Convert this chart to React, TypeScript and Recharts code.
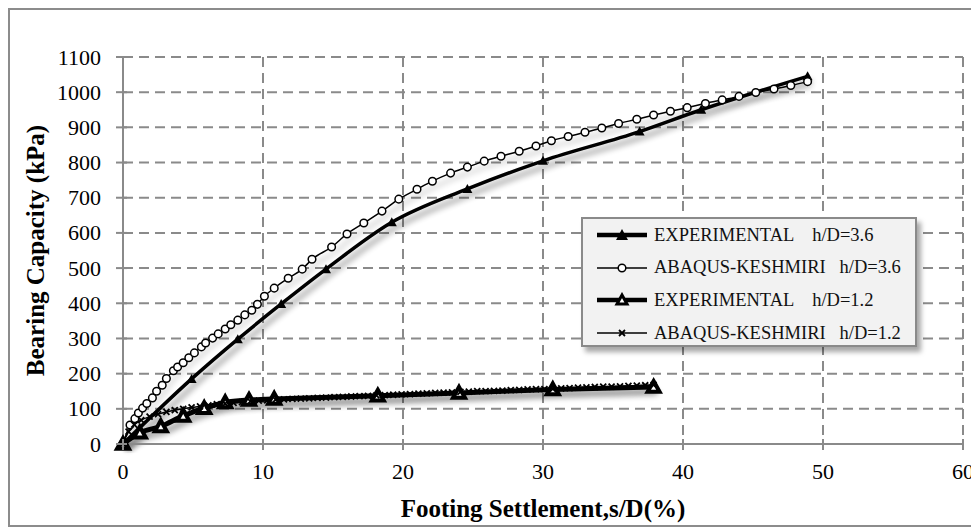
import { LineChart, Line, XAxis, YAxis, CartesianGrid } from 'recharts'

const xTicks = [0, 10, 20, 30, 40, 50, 60]
const yTicks = [0, 100, 200, 300, 400, 500, 600, 700, 800, 900, 1000, 1100]

// EXPERIMENTAL h/D=3.6
const expHighS = [0, 4.9, 8.2, 11.3, 14.5, 19.2, 24.6, 30.0, 36.9, 41.3, 48.9]
const expHighQ = [0, 185, 298, 398, 497, 630, 725, 805, 888, 950, 1045]

// ABAQUS-KESHMIRI h/D=3.6
const abqHighS = [
  0, 0.5, 0.85, 1.1, 1.4, 1.7, 2.1, 2.4, 2.8, 3.1, 3.6, 3.9, 4.3, 4.7, 5.1, 5.6, 5.9, 6.4, 6.8, 7.3,
  7.7, 8.2, 8.7, 9.2, 9.6, 10.1, 10.8, 11.8, 12.8, 13.5, 14.9, 16.0, 17.2, 18.5, 19.7, 21.0, 22.1,
  23.4, 24.6, 25.8, 27.0, 28.3, 29.5, 30.6, 31.8, 33.0, 34.2, 35.4, 36.7, 37.9, 39.1, 40.3, 41.6,
  42.8, 44.0, 45.2, 46.5, 47.7, 48.9,
]
const abqHighQ = [
  0, 54, 72, 88, 102, 115, 131, 150, 167, 186, 208, 219, 231, 245, 259, 276, 287, 301, 313, 327,
  339, 352, 367, 380, 397, 420, 443, 471, 497, 525, 560, 597, 628, 662, 696, 724, 747,
  770, 787, 804, 818, 832, 847, 862, 874, 886, 898, 911, 923, 935, 946, 956, 968,
  978, 988, 999, 1009, 1019, 1030,
]

// EXPERIMENTAL h/D=1.2
const expLowS = [0, 1.2, 2.7, 4.3, 5.8, 7.3, 9.0, 10.8, 18.2, 24.0, 30.7, 37.9]
const expLowQ = [0, 32, 50, 80, 102, 118, 125, 128, 137, 145, 155, 162]

// ABAQUS-KESHMIRI h/D=1.2
const abqLowS = [
  0, 0.4, 0.8, 1.3, 1.9, 2.5, 3.1, 3.7, 4.3, 4.9, 5.5, 6.1, 6.7, 7.3, 7.9, 8.5, 9.1, 9.7, 10.3,
  10.9, 11.5, 12.1, 12.7, 13.3, 13.9, 14.5, 15.1, 15.7, 16.3, 16.9, 17.5, 18.1, 18.7, 19.3, 19.9,
  20.5, 21.1, 21.7, 22.3, 22.9, 23.5, 24.1, 24.7, 25.3, 25.9, 26.5, 27.1, 27.7, 28.3, 28.9, 29.5,
  30.1, 30.7, 31.3, 31.9, 32.5, 33.1, 33.7, 34.3, 34.9, 35.5, 36.1, 36.7, 37.3, 37.9,
]
const abqLowQ = [
  0, 35, 55, 68, 78, 85, 91, 96, 100, 104, 107, 110, 113, 115, 117, 119, 121, 123, 124,
  126, 127, 128, 129, 130, 131, 132, 133, 134, 135, 136, 137, 138, 139, 140, 141,
  142, 143, 144, 145, 146, 147, 148, 149, 150, 150, 151, 152, 153, 154, 155, 156,
  156, 157, 158, 159, 160, 161, 162, 163, 163, 164, 165, 166, 167, 168,
]

const rows = (s: number[], q: number[]) => s.map((v, i) => ({ s: v, q: q[i] }))

const serif = '"Liberation Serif", "Times New Roman", serif'
const gray = '#8a8a8a'

const triDot = (size: number, fill: string, stroke: string, sw: number) => (p: any) => {
  if (p.cx == null || p.cy == null) return <g key={p.index} />
  const { cx, cy } = p
  return (
    <path
      key={p.index}
      d={`M${cx},${cy - size} L${cx + size},${cy + size * 0.8} L${cx - size},${cy + size * 0.8} Z`}
      fill={fill}
      stroke={stroke}
      strokeWidth={sw}
      strokeLinejoin="miter"
    />
  )
}

const circleDot = (p: any) => {
  if (p.cx == null || p.cy == null) return <g key={p.index} />
  return <circle key={p.index} cx={p.cx} cy={p.cy} r={3.8} fill="#fff" stroke="#000" strokeWidth={1.5} />
}

const crossDot = (p: any) => {
  if (p.cx == null || p.cy == null) return <g key={p.index} />
  const { cx, cy } = p
  const r = 3
  return (
    <path
      key={p.index}
      d={`M${cx - r},${cy - r} L${cx + r},${cy + r} M${cx + r},${cy - r} L${cx - r},${cy + r}`}
      stroke="#000"
      strokeWidth={1.8}
    />
  )
}

const YTick = (p: any) => (
  <g>
    <line x1={p.x - 7} x2={p.x + 4} y1={p.y} y2={p.y} stroke={gray} strokeWidth={2} />
    <text x={p.x - 22} y={p.y} textAnchor="end" dominantBaseline="central" fontFamily={serif} fontSize={22} fill="#000">
      {p.payload.value}
    </text>
  </g>
)

const XTick = (p: any) => (
  <g>
    <line x1={p.x} x2={p.x} y1={p.y - 5} y2={p.y + 6} stroke={gray} strokeWidth={2} />
    <text x={p.x} y={p.y + 27} textAnchor="middle" dominantBaseline="central" fontFamily={serif} fontSize={22} fill="#000">
      {p.payload.value}
    </text>
  </g>
)

const legendItems = [
  { label: 'EXPERIMENTAL    h/D=3.6', kind: 'expHigh' },
  { label: 'ABAQUS-KESHMIRI   h/D=3.6', kind: 'abqHigh' },
  { label: 'EXPERIMENTAL    h/D=1.2', kind: 'expLow' },
  { label: 'ABAQUS-KESHMIRI   h/D=1.2', kind: 'abqLow' },
]

function LegendSample({ kind }: { kind: string }) {
  const thick = kind === 'expHigh' || kind === 'expLow'
  return (
    <svg width={50} height={16} style={{ display: 'block' }}>
      <line x1={0} x2={50} y1={8} y2={8} stroke="#000" strokeWidth={thick ? 4.5 : 1.5} />
      {kind === 'expHigh' && <path d="M25,2 L31,13 L19,13 Z" fill="#000" />}
      {kind === 'abqHigh' && <circle cx={25} cy={8} r={3.8} fill="#fff" stroke="#000" strokeWidth={1.5} />}
      {kind === 'expLow' && <path d="M25,3 L30,12 L20,12 Z" fill="#fff" stroke="#000" strokeWidth={3} />}
      {kind === 'abqLow' && <path d="M22,5 L28,11 M28,5 L22,11" stroke="#000" strokeWidth={1.8} />}
    </svg>
  )
}

export default function App() {
  return (
    <div style={{ position: 'relative', width: 971, height: 520, overflow: 'hidden', background: '#fff' }}>
      <svg width={0} height={0} style={{ position: 'absolute' }}>
        <defs>
          <filter id="lineShadow" x="-5%" y="-5%" width="115%" height="120%">
            <feGaussianBlur in="SourceAlpha" stdDeviation="3" />
            <feOffset dx="4" dy="5" result="off" />
            <feComponentTransfer>
              <feFuncA type="linear" slope="0.45" />
            </feComponentTransfer>
            <feMerge>
              <feMergeNode />
              <feMergeNode in="SourceGraphic" />
            </feMerge>
          </filter>
        </defs>
      </svg>
      <style>{`
        .recharts-line-curve { filter: url(#lineShadow); }
      `}</style>
      <LineChart width={971} height={520} margin={{ top: 49, right: 16, bottom: 0, left: 0 }}>
        <CartesianGrid stroke={gray} strokeWidth={2} strokeDasharray="10 6" />
        <XAxis
          type="number"
          dataKey="s"
          domain={[0, 60]}
          ticks={xTicks}
          height={84}
          tickSize={0}
          tickMargin={0}
          tickLine={false}
          axisLine={{ stroke: gray, strokeWidth: 2 }}
          tick={XTick}
          label={{
            content: (lp: any) => {
              const vb = lp.viewBox || { x: 115, y: 436, width: 840 }
              return (
                <text x={vb.x + vb.width / 2} y={vb.y + 64} textAnchor="middle" dominantBaseline="central" fontFamily={serif} fontWeight="bold" fontSize={25} fill="#000">
                  Footing Settlement,s/D(%)
                </text>
              )
            },
          }}
        />
        <YAxis
          type="number"
          dataKey="q"
          domain={[0, 1100]}
          ticks={yTicks}
          width={115}
          tickSize={0}
          tickMargin={0}
          tickLine={false}
          axisLine={{ stroke: gray, strokeWidth: 2 }}
          tick={YTick}
          label={{
            content: (lp: any) => {
              const vb = lp.viewBox || { x: 0, y: 49, height: 387 }
              const cy = vb.y + vb.height / 2
              return (
                <text x={27} y={cy} transform={`rotate(-90 27 ${cy})`} textAnchor="middle" dominantBaseline="central" fontFamily={serif} fontWeight="bold" fontSize={25} fill="#000">
                  Bearing Capacity (kPa)
                </text>
              )
            },
          }}
        />
        <Line
          data={rows(expHighS, expHighQ)}
          dataKey="q"
          type="monotone"
          stroke="#000"
          strokeWidth={3.5}
          dot={triDot(5, '#000', '#000', 0)}
          isAnimationActive={false}
        />
        <Line
          data={rows(abqHighS, abqHighQ)}
          dataKey="q"
          type="monotone"
          stroke="#000"
          strokeWidth={1.5}
          dot={circleDot}
          isAnimationActive={false}
        />
        <Line
          data={rows(expLowS, expLowQ)}
          dataKey="q"
          type="monotone"
          stroke="#000"
          strokeWidth={5}
          dot={triDot(6, '#fff', '#000', 4)}
          isAnimationActive={false}
        />
        <Line
          data={rows(abqLowS, abqLowQ)}
          dataKey="q"
          type="monotone"
          stroke="#000"
          strokeWidth={1.5}
          dot={crossDot}
          isAnimationActive={false}
        />
      </LineChart>

      <div
        style={{
          position: 'absolute',
          left: 573,
          top: 209,
          width: 332,
          height: 126,
          background: '#f2f2f2',
          border: `2px solid ${gray}`,
          boxShadow: '4px 5px 5px rgba(0,0,0,0.35)',
          fontFamily: serif,
          fontSize: 18.5,
          color: '#111',
        }}
      >
        {legendItems.map((it, i) => (
          <div
            key={it.label}
            style={{ position: 'absolute', left: 14, top: 6 + i * 32.7, height: 20, display: 'flex', alignItems: 'center' }}
          >
            <LegendSample kind={it.kind} />
            <span style={{ marginLeft: 7, whiteSpace: 'pre' }}>{it.label}</span>
          </div>
        ))}
      </div>

      <div
        style={{
          position: 'absolute',
          left: 0,
          top: 0,
          width: 990,
          height: 519,
          border: '2px solid #8c8c8c',
          boxSizing: 'border-box',
          pointerEvents: 'none',
        }}
      />
    </div>
  )
}
